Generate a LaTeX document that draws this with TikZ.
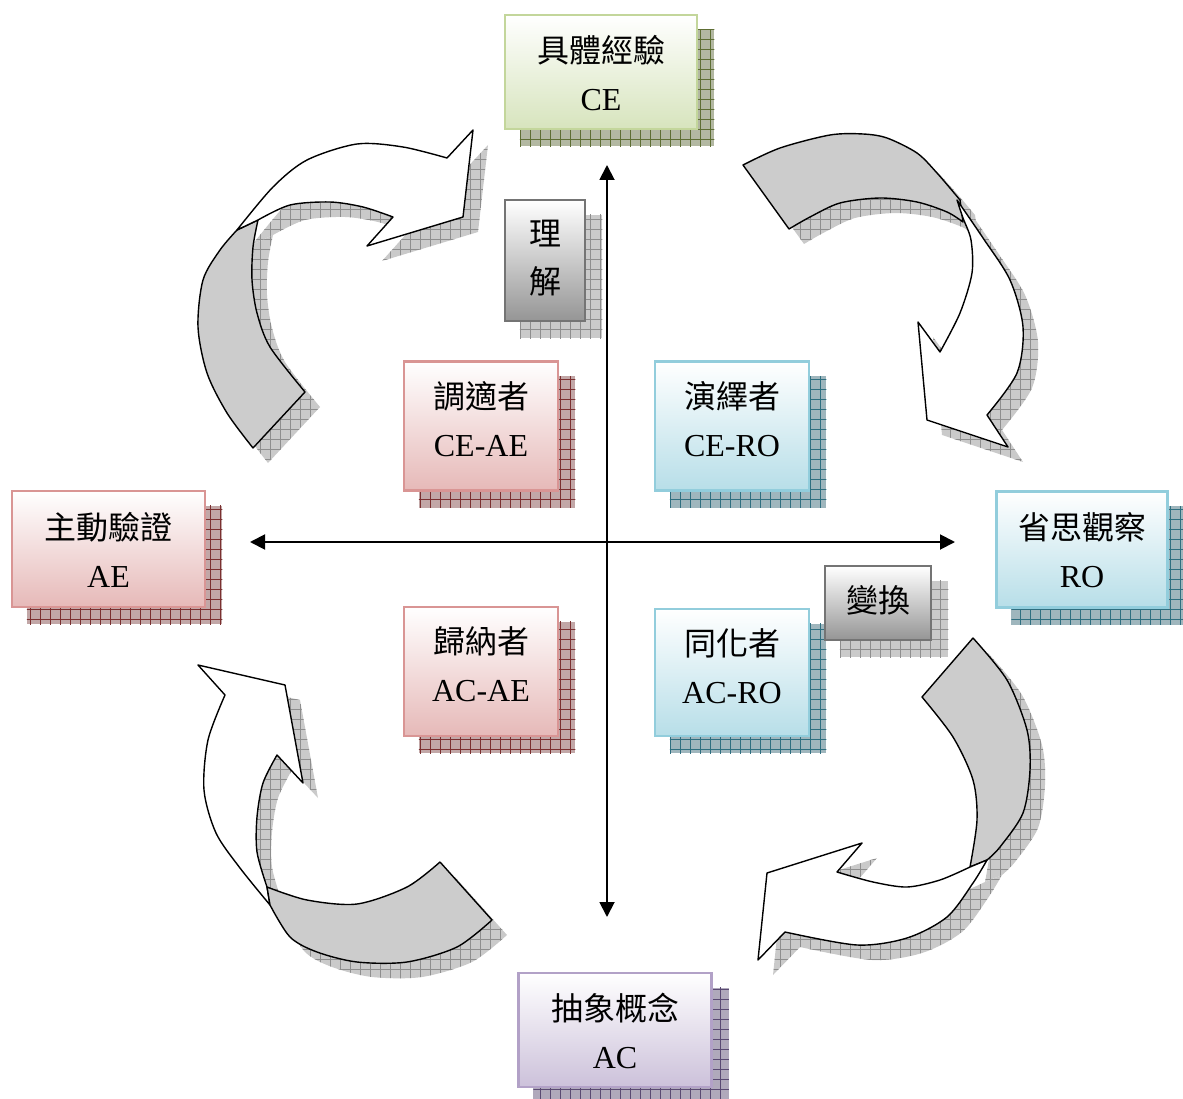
\documentclass[tikz,border=0pt]{standalone}
\usepackage{fontspec}
\setmainfont{Liberation Serif}
\newfontfamily\cjk{Noto Sans CJK TC}
\usetikzlibrary{arrows.meta,patterns,backgrounds}

\definecolor{grnB}{HTML}{C3D69B}\definecolor{grnF}{HTML}{D7E4BD}
\definecolor{pnkB}{HTML}{D99594}\definecolor{pnkF}{HTML}{E6B9B8}
\definecolor{bluB}{HTML}{92CDDC}\definecolor{bluF}{HTML}{B7DEE8}
\definecolor{purB}{HTML}{B2A1C7}\definecolor{purF}{HTML}{CCC1DA}
\definecolor{gryB}{HTML}{747474}\definecolor{gryF}{HTML}{959595}
\definecolor{shGrnBg}{HTML}{B3B8A2}\definecolor{shGrnLn}{HTML}{5E6E34}
\definecolor{shPnkBg}{HTML}{C2A7A7}\definecolor{shPnkLn}{HTML}{7B3030}
\definecolor{shBluBg}{HTML}{9FB6BD}\definecolor{shBluLn}{HTML}{2F6F80}
\definecolor{shPurBg}{HTML}{B0A9BB}\definecolor{shPurLn}{HTML}{5A4A72}
\definecolor{shGryBg}{HTML}{CACACA}\definecolor{shGryLn}{HTML}{8E8E8E}
\definecolor{bandG}{HTML}{CCCCCC}

\pgfdeclarepatternformonly{biggrid}{\pgfpoint{-1pt}{-1pt}}{\pgfpoint{11pt}{11pt}}{\pgfpoint{10pt}{10pt}}{%
  \pgfsetlinewidth{0.9pt}%
  \pgfpathmoveto{\pgfpoint{0pt}{0pt}}\pgfpathlineto{\pgfpoint{10pt}{0pt}}%
  \pgfpathmoveto{\pgfpoint{0pt}{0pt}}\pgfpathlineto{\pgfpoint{0pt}{10pt}}%
  \pgfusepath{stroke}}

\newcommand\boxshadow[3]{%
  \fill[#2] ([shift={(16,16)}]#1.north west) rectangle ([shift={(16,16)}]#1.south east);
  \fill[pattern=biggrid, pattern color=#3] ([shift={(16,16)}]#1.north west) rectangle ([shift={(16,16)}]#1.south east);}

% arrow outlines
\newcommand\tlgray{plot[smooth] coordinates {(253,448) (227,413) (207,373) (198,327) (203,280) (220,250) (237,230)} -- (258,220) -- plot[smooth] coordinates {(258,220) (253,247) (252,280) (257,313) (270,347) (305,392)} -- cycle}
\newcommand\tlwhite{plot[smooth] coordinates {(237,230) (273,187) (307,160) (357,144) (403,147) (447,158)} -- (473,130) -- (463,217) -- (367,246) -- (393,217) -- plot[smooth] coordinates {(393,217) (363,207) (330,202) (290,205) (258,220)} -- cycle}
\newcommand\trgray{plot[smooth] coordinates {(743,165) (780,148) (830,135) (863,134) (887,138) (917,153) (937,173) (960,200)} -- (963,222) -- plot[smooth] coordinates {(963,222) (947,212) (917,202) (880,198) (840,203) (810,217) (789,229)} -- cycle}
\newcommand\trwhite{plot[smooth] coordinates {(957,200) (983,238) (1010,280) (1023,327) (1017,373) (987,415)} -- (1008,447) -- (927,420) -- (918,322) -- (940,352) -- plot[smooth] coordinates {(940,352) (960,313) (972,273) (971,240) (963,218) (957,200)} -- cycle}
\newcommand\brgray{(922,697) -- (973,638) -- plot[smooth] coordinates {(973,638) (1007,680) (1027,730) (1030,770) (1023,813) (1000,847) (987,860)} -- (970,867) -- plot[smooth] coordinates {(970,867) (977,820) (973,780) (953,737) (922,697)} -- cycle}
\newcommand\brwhite{plot[smooth] coordinates {(987,860) (973,883) (947,917) (907,938) (857,945) (785,932)} -- (758,960) -- (767,873) -- (862,843) -- (837,872) -- plot[smooth] coordinates {(837,872) (873,882) (907,887) (940,880) (970,867)} -- cycle}
\newcommand\blwhite{plot[smooth] coordinates {(270,905) (240,868) (216,833) (204,790) (208,740) (225,695)} -- (198,665) -- (285,685) -- (303,783) -- (277,755) -- plot[smooth] coordinates {(277,755) (263,783) (257,817) (257,852) (267,887)} -- cycle}
\newcommand\blgray{plot[smooth] coordinates {(267,887) (307,900) (357,904) (407,887) (440,862)} -- (492,920) -- plot[smooth] coordinates {(492,920) (457,947) (407,962) (357,962) (317,952) (290,937) (270,905)} -- cycle}

\tikzset{
  boxbase/.style={draw, line width=2.5pt, inner sep=0pt},
  greenbox/.style={boxbase, draw=grnB, top color=white, bottom color=grnF},
  pinkbox/.style={boxbase, draw=pnkB, top color=white, bottom color=pnkF},
  bluebox/.style={boxbase, draw=bluB, top color=white, bottom color=bluF},
  purplebox/.style={boxbase, draw=purB, top color=white, bottom color=purF},
  graybox/.style={boxbase, draw=gryB, top color=white, bottom color=gryF},
  txt/.style={align=center, inner sep=0pt, anchor=north, font=\fontsize{32}{48}\selectfont},
  arrline/.style={line width=1.4pt, line join=round, draw=black},
  bandgray/.style={arrline, fill=bandG},
  bandwhite/.style={arrline, fill=white},
  ashadowbg/.style={fill=shGryBg, shift={(15,15)}},
  ashadowln/.style={pattern=biggrid, pattern color=shGryLn, shift={(15,15)}},
  axisline/.style={line width=1.9pt, {Triangle[length=15pt,width=15pt]}-{Triangle[length=15pt,width=15pt]}}
}

\begin{document}
\begin{tikzpicture}[x=1pt,y=-1pt]
\useasboundingbox (0,0) rectangle (1183,1099);

% arrow shadows
\foreach \p in {\tlgray,\tlwhite,\trgray,\trwhite,\brgray,\brwhite,\blwhite,\blgray}{
  \fill[ashadowbg] \p;
  \fill[ashadowln] \p;
}

% curved arrows
\draw[bandgray] \tlgray;
\draw[bandwhite] \tlwhite;
\draw[bandgray] \trgray;
\draw[bandwhite] \trwhite;
\draw[bandgray] \brgray;
\draw[bandwhite] \brwhite;
\draw[bandwhite] \blwhite;
\draw[bandgray] \blgray;

% boxes
\node[greenbox, minimum width=192pt, minimum height=114pt] (ce) at (601,72) {};
\node[graybox, minimum width=80pt, minimum height=121pt] (lj) at (545,260.5) {};
\node[pinkbox, minimum width=154pt, minimum height=129pt] (ceae) at (481,426) {};
\node[bluebox, minimum width=154pt, minimum height=129pt] (cero) at (732,426) {};
\node[pinkbox, minimum width=193pt, minimum height=116pt] (ae) at (108.5,549) {};
\node[bluebox, minimum width=171pt, minimum height=116pt] (ro) at (1082,549.5) {};
\node[graybox, minimum width=106pt, minimum height=74pt] (bh) at (878,603) {};
\node[bluebox, minimum width=154pt, minimum height=127pt] (acro) at (732,672.5) {};
\node[pinkbox, minimum width=154pt, minimum height=129pt] (acae) at (481,671.5) {};
\node[purplebox, minimum width=193pt, minimum height=114pt] (ac) at (615,1030) {};

% box texts
\node[txt] (ce-t) at ([yshift=-21pt]ce.north) {{\cjk 具體經驗}\\CE};
\node[txt] (lj-t) at ([yshift=-21pt]lj.north) {{\cjk 理}\\{\cjk 解}};
\node[txt] (ceae-t) at ([yshift=-21pt]ceae.north) {{\cjk 調適者}\\CE-AE};
\node[txt] (cero-t) at ([yshift=-21pt]cero.north) {{\cjk 演繹者}\\CE-RO};
\node[txt] (ae-t) at ([yshift=-22pt]ae.north) {{\cjk 主動驗證}\\AE};
\node[txt] (ro-t) at ([yshift=-22pt]ro.north) {{\cjk 省思觀察}\\RO};
\node[txt] (bh-t) at ([yshift=-21pt]bh.north) {{\cjk 變換}};
\node[txt] (acro-t) at ([yshift=-21pt]acro.north) {{\cjk 同化者}\\AC-RO};
\node[txt] (acae-t) at ([yshift=-21pt]acae.north) {{\cjk 歸納者}\\AC-AE};
\node[txt] (ac-t) at ([yshift=-21pt]ac.north) {{\cjk 抽象概念}\\AC};

% box shadows
\begin{scope}[on background layer]
\boxshadow{ce}{shGrnBg}{shGrnLn}
\boxshadow{lj}{shGryBg}{shGryLn}
\boxshadow{ceae}{shPnkBg}{shPnkLn}
\boxshadow{cero}{shBluBg}{shBluLn}
\boxshadow{ae}{shPnkBg}{shPnkLn}
\boxshadow{ro}{shBluBg}{shBluLn}
\boxshadow{bh}{shGryBg}{shGryLn}
\boxshadow{acro}{shBluBg}{shBluLn}
\boxshadow{acae}{shPnkBg}{shPnkLn}
\boxshadow{ac}{shPurBg}{shPurLn}
\end{scope}

% axes
\coordinate (vt) at (607,165);
\coordinate (vb) at (607,917);
\coordinate (hl) at (250,542);
\coordinate (hr) at (955,542);
\draw[axisline] (vt) -- (vb);
\draw[axisline] (hl) -- (hr);
\end{tikzpicture}
\end{document}
